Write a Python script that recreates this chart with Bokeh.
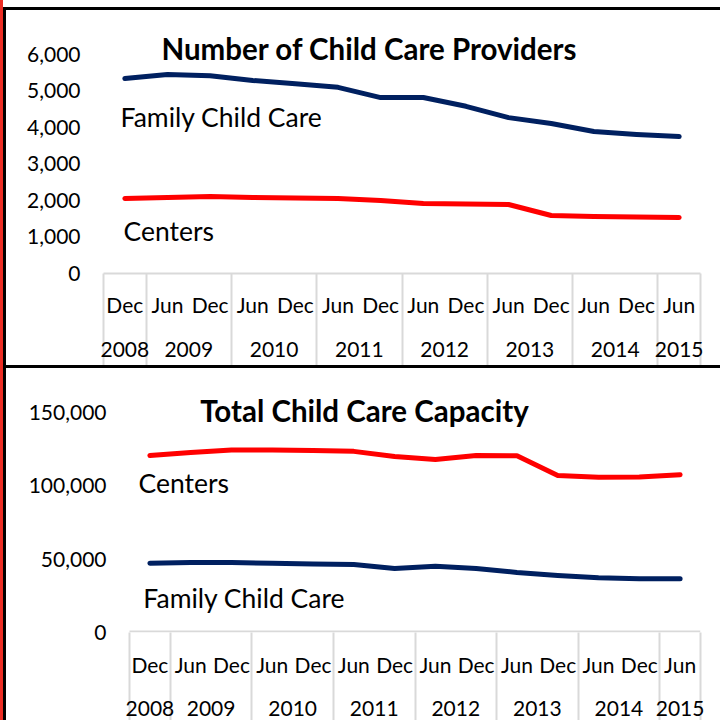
from bokeh.plotting import figure
from bokeh.models import Range1d, FixedTicker, LinearAxis, Label, BoxAnnotation, NumeralTickFormatter, Spacer, Div
from bokeh.layouts import column, row
from bokeh.embed import file_html
from bokeh.resources import INLINE

# ---- data ----
months = ["Dec", "Jun", "Dec", "Jun", "Dec", "Jun", "Dec", "Jun", "Dec", "Jun", "Dec", "Jun", "Dec", "Jun"]
years = ["2008", "2009", "2010", "2011", "2012", "2013", "2014", "2015"]
year_counts = [1, 2, 2, 2, 2, 2, 2, 1]

providers_family = [5340, 5450, 5420, 5290, 5200, 5100, 4820, 4820, 4580, 4270, 4110, 3890, 3810, 3750]
providers_centers = [2055, 2080, 2110, 2080, 2070, 2055, 2000, 1920, 1905, 1890, 1590, 1560, 1550, 1535]
capacity_centers = [120700, 122800, 124500, 124500, 124100, 123500, 120000, 118000, 120700, 120500, 107100, 105900, 106000, 107600]
capacity_family = [47300, 47700, 47700, 47200, 46700, 46400, 43700, 45200, 43700, 40900, 38900, 37300, 36600, 36600]

providers_ticks = [0, 1000, 2000, 3000, 4000, 5000, 6000]
capacity_ticks = [0, 50000, 100000, 150000]

NAVY = "#002060"
RED = "#FF0000"
GRAY = "#D9D9D9"
STRIP_RED = "#EC2D24"
FONT = "Lato"

idx = list(range(len(months)))
year_pos = []
seps = [-0.5]
start = 0
for c in year_counts:
    year_pos.append(start + (c - 1) / 2)
    start += c
    seps.append(start - 0.5)


def bar(w, h, color):
    return Div(text="", width=w, height=h, margin=0,
               styles={"background-color": color, "margin": "0", "padding": "0"})


def panel(height, x_rng, y_end, mb_bottom, y_ticks, y_standoff, month_standoff, year_standoff,
          title, series, labels, title_pos, axis_line):
    p = figure(width=714, height=height, output_backend="svg", toolbar_location=None,
               x_range=Range1d(*x_rng), y_range=Range1d(0, y_end),
               min_border_left=97, min_border_right=20, min_border_top=0, min_border_bottom=mb_bottom)
    p.outline_line_color = None
    p.grid.visible = False
    p.background_fill_color = "white"
    p.border_fill_color = "white"

    # value axis
    ya = p.yaxis[0]
    ya.ticker = FixedTicker(ticks=y_ticks)
    ya.formatter = NumeralTickFormatter(format="0,0")
    ya.axis_line_color = None
    ya.major_tick_line_color = None
    ya.minor_tick_line_color = None
    ya.major_tick_out = 0
    ya.major_tick_in = 0
    ya.major_label_standoff = y_standoff
    ya.major_label_text_font = FONT
    ya.major_label_text_font_size = "21px"
    ya.major_label_text_color = "black"

    # month axis (minor ticks are the category separators)
    xa = p.xaxis[0]
    xa.ticker = FixedTicker(ticks=idx, minor_ticks=seps)
    xa.major_label_overrides = {i: m for i, m in zip(idx, months)}
    xa.major_tick_out = 0
    xa.major_tick_in = 0
    xa.major_tick_line_color = None
    xa.minor_tick_in = 0
    xa.minor_tick_out = mb_bottom
    xa.minor_tick_line_color = GRAY
    xa.minor_tick_line_width = 2
    if axis_line:
        xa.axis_line_color = GRAY
        xa.axis_line_width = 2
    else:
        xa.axis_line_color = None
        p.add_layout(BoxAnnotation(left=-0.5, right=len(months) - 0.5, bottom=0, top=y_end * 2 / (height - mb_bottom),
                                   fill_color=GRAY, fill_alpha=1, line_color=None))
    xa.major_label_standoff = month_standoff
    xa.major_label_text_font = FONT
    xa.major_label_text_font_size = "21px"
    xa.major_label_text_color = "black"

    # year axis
    yr = LinearAxis(ticker=FixedTicker(ticks=year_pos, minor_ticks=[]),
                    major_label_overrides={pos: y for pos, y in zip(year_pos, years)})
    yr.axis_line_color = None
    yr.major_tick_line_color = None
    yr.minor_tick_line_color = None
    yr.major_tick_out = 0
    yr.major_tick_in = 0
    yr.major_label_standoff = year_standoff
    yr.major_label_text_font = FONT
    yr.major_label_text_font_size = "21px"
    yr.major_label_text_color = "black"
    p.add_layout(yr, "below")

    for vals, color in series:
        p.line(idx, vals, line_color=color, line_width=5, line_cap="round", line_join="round")

    for txt, x, y in labels:
        p.add_layout(Label(x=x, y=y, text=txt, text_font=FONT, text_font_size="26.5px",
                           text_color="black", text_align="left", text_baseline="alphabetic"))

    p.add_layout(Label(x=title_pos[0], y=title_pos[1], text=title, text_font=FONT,
                       text_font_size="29.5px", text_font_style="bold", text_color="black",
                       text_align="center", text_baseline="alphabetic"))
    return p


top = panel(355, (-0.5, 13.5), 7205, 92, providers_ticks, 23, -74, 22,
            "Number of Child Care Providers",
            [(providers_family, NAVY), (providers_centers, RED)],
            [("Family Child Care", -0.1, 4274), ("Centers", -0.03, 1151)],
            (5.74, 6151), True)

bottom = panel(352, (-1.1375, 13.5), 180000, 88, capacity_ticks, -3, -69, 21,
               "Total Child Care Capacity",
               [(capacity_centers, RED), (capacity_family, NAVY)],
               [("Centers", -0.28, 102100), ("Family Child Care", -0.16, 23700)],
               (5.26, 151700), False)

main = column(Spacer(width=714, height=7, margin=0), bar(714, 3, "black"), top,
              bar(714, 3, "black"), bottom, spacing=0)
left_black = column(Spacer(width=3, height=7, margin=0), bar(3, 713, "black"), spacing=0)
layout = row(bar(3, 720, STRIP_RED), left_black, main, spacing=0)

open("out.html", "w").write(file_html(layout, INLINE))
